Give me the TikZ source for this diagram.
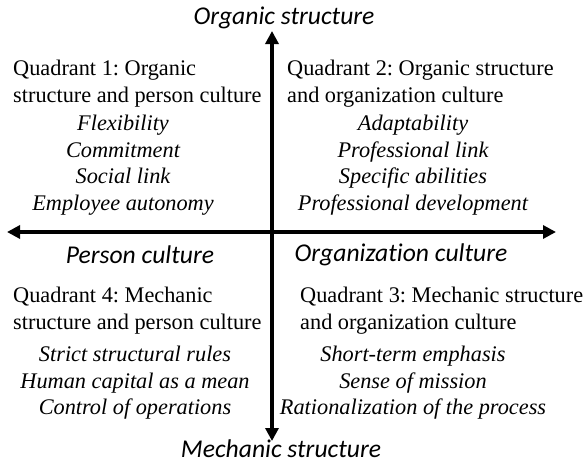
\documentclass[tikz,border=0pt]{standalone}
\usepackage{fontspec}
\setmainfont{Liberation Serif}
\newfontfamily\ejefont[Ligatures=NoCommon]{Carlito}
\usetikzlibrary{arrows.meta}
\frenchspacing
\begin{document}
\begin{tikzpicture}[x=1pt,y=-1pt,
    every node/.style={inner sep=0pt},
    eje/.style={line width=3.2pt, {Triangle[length=13pt,width=13pt]}-{Triangle[length=13pt,width=13pt]}},
    ejetexto/.style={font=\ejefont\itshape\fontsize{25.6}{30}\selectfont},
    titulo/.style={align=left, font=\fontsize{22.3}{27}\selectfont},
    lista/.style={align=center, font=\itshape\fontsize{22.3}{26.5}\selectfont}]
    \useasboundingbox (0,0) rectangle (587,463);

    % Ejes
    \coordinate (N) at (272,31);
    \coordinate (S) at (272,441);
    \coordinate (W) at (7,232);
    \coordinate (E) at (556,232);
    \draw[eje] (S) -- (N);
    \draw[eje] (W) -- (E);

    \node[ejetexto] (org) at (284,18) {Organic structure};
    \node[ejetexto] (mec) at (281,449) {Mechanic structure};
    \node[ejetexto] (per) at (140,255) {Person culture};
    \node[ejetexto] (orc) at (401,255) {Organization culture};

    % Cuadrantes
    \node[titulo, anchor=west] (q1) at (13,84) {Quadrant 1: Organic\\structure and person culture};
    \node[lista] (l1) at (123,165) {Flexibility\\Commitment\\Social link\\Employee autonomy};

    \node[titulo, anchor=west] (q2) at (287,84) {Quadrant 2: Organic structure\\and organization culture};
    \node[lista] (l2) at (413,165) {Adaptability\\Professional link\\Specific abilities\\Professional development};

    \node[titulo, anchor=west] (q4) at (13,311) {Quadrant 4: Mechanic\\structure and person culture};
    \node[lista] (l4) at (135,383) {Strict structural rules\\Human capital as a mean\\Control of operations};

    \node[titulo, anchor=west] (q3) at (300,311) {Quadrant 3: Mechanic structure\\and organization culture};
    \node[lista] (l3) at (413,383) {Short-term emphasis\\Sense of mission\\Rationalization of the process};

\end{tikzpicture}
\end{document}
